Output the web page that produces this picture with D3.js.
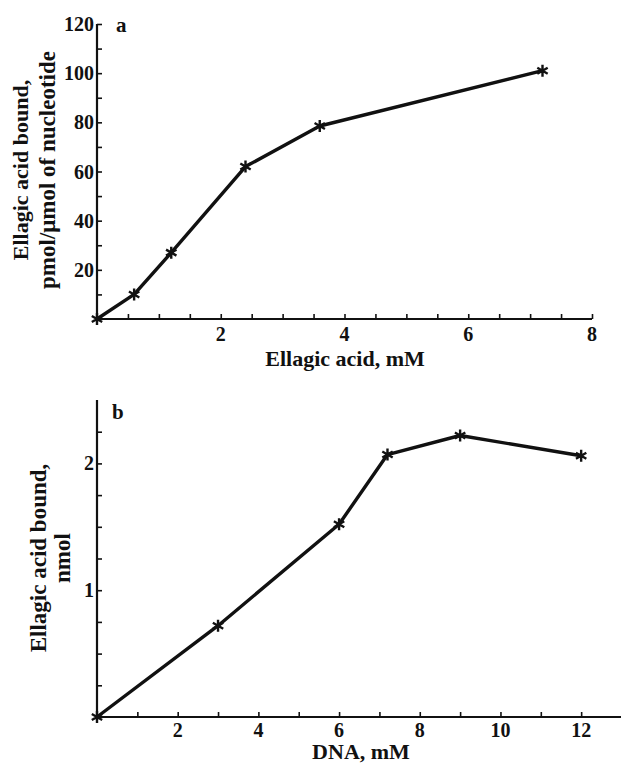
<!DOCTYPE html>
<html>
<head>
<meta charset="utf-8">
<script src="https://cdn.jsdelivr.net/npm/d3@7/dist/d3.min.js"></script>
<style>
  body { margin: 0; background: #fff; }
  svg text { font-family: "Liberation Serif", "DejaVu Serif", serif; fill: #111; font-weight: bold; }
</style>
</head>
<body>
<div id="chart"></div>
<script>
// Panel a: ellagic acid concentration vs bound
const aX = [0, 0.6, 1.2, 2.4, 3.6, 7.2];
const aY = [0, 10, 27, 62, 78.5, 101];
const aXTicks = [2, 4, 6, 8];
const aYTicks = [20, 40, 60, 80, 100, 120];

// Panel b: DNA concentration vs bound
const bX = [0, 3, 6, 7.2, 9, 12];
const bY = [0, 0.72, 1.52, 2.07, 2.22, 2.06];
const bXTicks = [2, 4, 6, 8, 10, 12];
const bYTicks = [1, 2];

const width = 621;
const height = 766;
const ink = "#111";

const svg = d3.select("#chart")
    .append("svg")
    .attr("width", width)
    .attr("height", height);

// six-ray star marker drawn as strokes
function starPath(r) {
    const p = d3.path();
    for (let k = 0; k < 3; k++) {
        const a = Math.PI / 2 + k * Math.PI / 3;
        p.moveTo(r * Math.cos(a), r * Math.sin(a));
        p.lineTo(-r * Math.cos(a), -r * Math.sin(a));
    }
    return p.toString();
}

function panel(cfg) {
    const x = d3.scaleLinear().domain(cfg.xDomain).range(cfg.xRange);
    const y = d3.scaleLinear().domain(cfg.yDomain).range(cfg.yRange);
    const g = svg.append("g");

    // minor ticks (inward)
    g.append("g")
        .attr("transform", `translate(0,${y(0)})`)
        .call(d3.axisTop(x).tickValues(cfg.xMinor).tickSize(5).tickFormat(""))
        .call(a => a.select(".domain").remove())
        .selectAll("line").attr("stroke", ink).attr("stroke-width", 1.6);
    g.append("g")
        .attr("transform", `translate(${x(0)},0)`)
        .call(d3.axisRight(y).tickValues(cfg.yMinor).tickSize(5).tickFormat(""))
        .call(a => a.select(".domain").remove())
        .selectAll("line").attr("stroke", ink).attr("stroke-width", 1.6);

    // axis lines
    g.append("line")
        .attr("x1", x(cfg.xDomain[0])).attr("x2", x(cfg.xDomain[1]))
        .attr("y1", y(0)).attr("y2", y(0))
        .attr("stroke", ink).attr("stroke-width", 2.2);
    g.append("line")
        .attr("x1", x(0)).attr("x2", x(0))
        .attr("y1", y(cfg.yDomain[0])).attr("y2", y(cfg.yDomain[1]))
        .attr("stroke", ink).attr("stroke-width", 2.2);

    // tick labels
    g.selectAll(".xl").data(cfg.xTicks).enter().append("text")
        .attr("x", d => x(d)).attr("y", y(0) + cfg.xLabelDy)
        .attr("text-anchor", "middle")
        .attr("font-size", 20)
        .text(d => d);
    g.selectAll(".yl").data(cfg.yTicks).enter().append("text")
        .attr("x", x(0) - 3).attr("y", d => y(d) + 7)
        .attr("text-anchor", "end")
        .attr("font-size", 20)
        .text(d => d);

    // line + markers
    const pts = cfg.xs.map((d, i) => [d, cfg.ys[i]]);
    g.append("path")
        .datum(pts)
        .attr("fill", "none")
        .attr("stroke", ink)
        .attr("stroke-width", 3.4)
        .attr("stroke-linejoin", "round")
        .attr("d", d3.line().x(d => x(d[0])).y(d => y(d[1])));
    g.selectAll(".pt").data(pts).enter().append("path")
        .attr("transform", d => `translate(${x(d[0])},${y(d[1])})`)
        .attr("d", starPath(6))
        .attr("fill", "none")
        .attr("stroke", ink)
        .attr("stroke-width", 2.4);

    // panel letter
    g.append("text")
        .attr("x", cfg.letterPos[0]).attr("y", cfg.letterPos[1])
        .attr("font-size", 21)
        .text(cfg.letter);

    // axis titles
    g.append("text")
        .attr("x", cfg.xTitlePos[0]).attr("y", cfg.xTitlePos[1])
        .attr("text-anchor", "middle")
        .attr("font-size", 22)
        .text(cfg.xTitle);
    cfg.yTitle.forEach((t, i) => {
        g.append("text")
            .attr("transform", `translate(${cfg.yTitleX[i]},${cfg.yTitleY}) rotate(-90)`)
            .attr("text-anchor", "middle")
            .attr("font-size", cfg.yTitleSize[i])
            .text(t);
    });
}

panel({
    xs: aX, ys: aY,
    xDomain: [0, 8], xRange: [97, 592],
    yDomain: [0, 120], yRange: [319, 24],
    xTicks: aXTicks, yTicks: aYTicks,
    xMinor: d3.range(0.5, 8.01, 0.5),
    yMinor: d3.range(10, 120.1, 10),
    xLabelDy: 22,
    letter: "a", letterPos: [116, 32],
    xTitle: "Ellagic acid, mM", xTitlePos: [345, 366],
    yTitle: ["Ellagic acid bound,", "pmol/\u03bcmol of nucleotide"],
    yTitleSize: [22, 23],
    yTitleX: [28, 55], yTitleY: 170
});

panel({
    xs: bX, ys: bY,
    xDomain: [0, 13], xRange: [97, 621.5],
    yDomain: [0, 2.5], yRange: [717, 400],
    xTicks: bXTicks, yTicks: bYTicks,
    xMinor: d3.range(1, 13.01, 1),
    yMinor: d3.range(0.25, 2.5, 0.25),
    xLabelDy: 20,
    letter: "b", letterPos: [112, 419],
    xTitle: "DNA, mM", xTitlePos: [361, 759],
    yTitle: ["Ellagic acid bound,", "nmol"],
    yTitleSize: [23, 23],
    yTitleX: [46, 70], yTitleY: 558
});
</script>
</body>
</html>
